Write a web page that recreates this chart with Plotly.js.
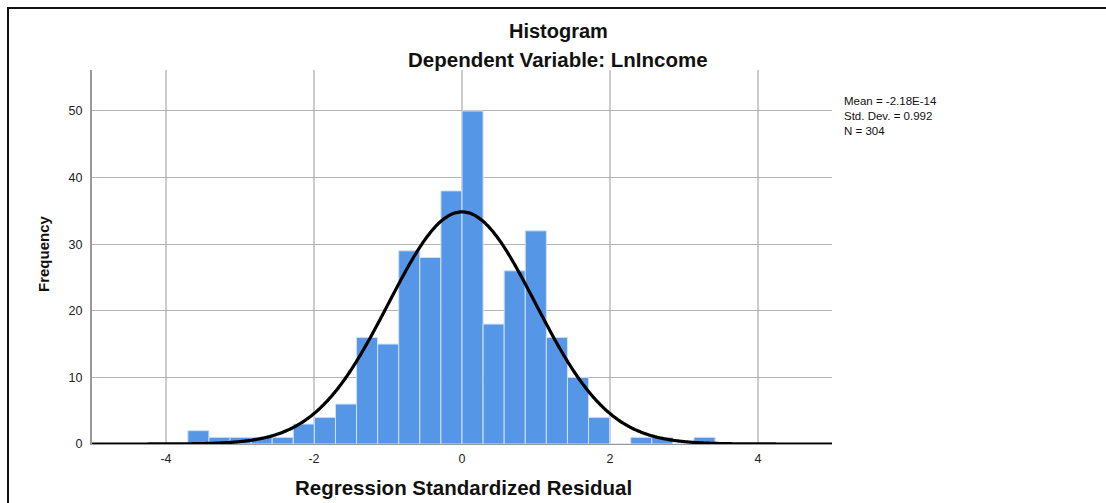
<!DOCTYPE html>
<html>
<head>
<meta charset="utf-8">
<script src="https://cdn.plot.ly/plotly-3.0.1.min.js"></script>
<style>
  html, body { margin: 0; padding: 0; background: #fff; }
  #frame { position: absolute; left: 7px; top: 7px; width: 1099px; height: 496px;
           border-left: 2px solid #111; border-top: 2px solid #111; box-sizing: border-box; pointer-events: none; }
  #chart { width: 1106px; height: 503px; }
</style>
</head>
<body>
<div id="chart"></div>
<div id="frame"></div>
<script>
// Histogram of regression standardized residuals
const binStart = -3.705;     // left edge of first bin
const binWidth = 0.285;      // bin width
const counts = [2, 1, 1, 1, 1, 3, 4, 6, 16, 15, 29, 28, 38, 50, 18, 26, 32, 16, 10, 4, 0, 1, 1, 0, 1];
const statMean = -2.18e-14;
const statSD = 0.992;
const statN = 304;
const statLines = ['Mean = -2.18E-14', 'Std. Dev. = 0.992', 'N = 304'];
const xTicks = [-4, -2, 0, 2, 4];
const yTicks = [0, 10, 20, 30, 40, 50];

const centers = counts.map((c, i) => binStart + (i + 0.5) * binWidth);

// fitted normal curve implied by the displayed Mean / Std. Dev. / N
const curveX = [], curveY = [];
for (let x = -5; x <= 5.0001; x += 0.02) {
  const z = (x - statMean) / statSD;
  curveX.push(x);
  curveY.push(statN * binWidth / (statSD * Math.sqrt(2 * Math.PI)) * Math.exp(-0.5 * z * z));
}

const traces = [
  { type: 'bar', x: centers, y: counts, width: binWidth,
    marker: { color: '#5596E6', line: { color: '#cfe0f7', width: 1 } },
    hoverinfo: 'x+y' },
  { type: 'scatter', mode: 'lines', x: curveX, y: curveY,
    line: { color: '#000', width: 3.2, shape: 'spline' }, hoverinfo: 'skip' }
];

const F = 'Liberation Sans, Arial, sans-serif';
const PX = p => (p - 92) / 740;      // pixel x -> paper
const PY = p => (444 - p) / 374;     // pixel y -> paper
const layout = {
  width: 1106, height: 503,
  margin: { l: 92, r: 274, t: 70, b: 59 },
  paper_bgcolor: '#fff', plot_bgcolor: '#fff',
  showlegend: false,
  bargap: 0,
  font: { family: F, color: '#222', size: 12 },
  xaxis: {
    range: [-5, 5], tickvals: xTicks, ticktext: xTicks.map(String),
    showgrid: true, gridcolor: '#cccccc', gridwidth: 2,
    zeroline: false, showline: true, linecolor: '#999', linewidth: 1,
    ticks: '', ticklabelstandoff: 3, tickfont: { size: 12.5, color: '#222', family: F },
    title: { text: '' }
  },
  yaxis: {
    range: [0, 56.15], tickvals: yTicks, ticktext: yTicks.map(String),
    showgrid: true, gridcolor: '#b4b4b4', gridwidth: 1,
    zeroline: false, showline: true, linecolor: '#999', linewidth: 2,
    ticks: '', ticklen: 0, ticklabelstandoff: 5, tickfont: { size: 12.5, color: '#222', family: F },
    title: { text: '' }
  },
  annotations: [
    { text: '<b>Histogram</b>', xref: 'paper', yref: 'paper', x: PX(558), y: PY(31),
      xanchor: 'center', yanchor: 'middle', showarrow: false,
      font: { family: F, size: 20, color: '#111' } },
    { text: '<b>Dependent Variable: LnIncome</b>', xref: 'paper', yref: 'paper', x: PX(558), y: PY(60),
      xanchor: 'center', yanchor: 'middle', showarrow: false,
      font: { family: F, size: 20.5, color: '#111' } },
    { text: '<b>Frequency</b>', xref: 'paper', yref: 'paper', x: PX(43), y: PY(254),
      xanchor: 'center', yanchor: 'middle', showarrow: false, textangle: -90,
      font: { family: F, size: 15, color: '#111' } },
    { text: '<b>Regression Standardized Residual</b>', xref: 'paper', yref: 'paper', x: PX(463), y: PY(487),
      xanchor: 'center', yanchor: 'middle', showarrow: false,
      font: { family: F, size: 20.5, color: '#111' } },
    { text: statLines.join('<br>'), xref: 'paper', yref: 'paper', x: PX(842), y: PY(93),
      xanchor: 'left', yanchor: 'top', align: 'left', showarrow: false,
      font: { family: F, size: 11.5, color: '#111' } }
  ]
};

Plotly.newPlot('chart', traces, layout, { displayModeBar: false, staticPlot: true });
</script>
</body>
</html>
